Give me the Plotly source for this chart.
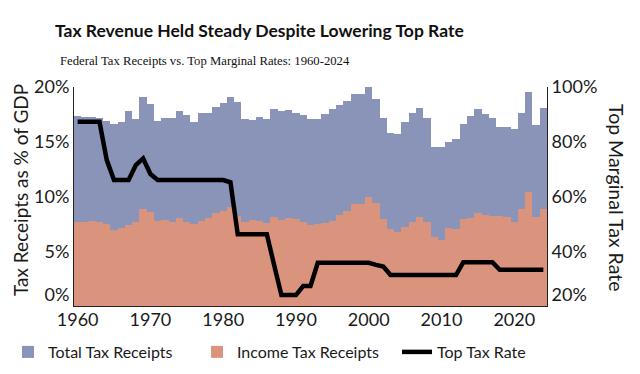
import plotly.graph_objects as go

years = list(range(1960, 2025))

total_receipts = [
    17.35, 17.30, 17.23, 17.14, 16.93, 16.59, 16.83, 17.84, 17.05, 19.12,
    18.44, 16.89, 17.14, 17.20, 17.84, 17.44, 16.77, 17.65, 17.65, 18.14,
    18.57, 19.12, 18.66, 17.08, 16.99, 17.23, 17.08, 17.96, 17.84, 17.90,
    17.59, 17.44, 17.10, 17.05, 17.53, 17.96, 18.36, 18.75, 19.33, 19.33,
    20.03, 18.93, 17.14, 15.83, 15.68, 16.83, 17.65, 18.05, 17.14, 14.55,
    14.55, 14.94, 15.25, 16.62, 17.35, 17.96, 17.53, 17.14, 16.32, 16.32,
    16.17, 17.65, 19.51, 16.56, 18.05,
]

income_receipts = [
    7.64, 7.64, 7.79, 7.70, 7.45, 6.94, 7.15, 7.39, 7.70, 8.88,
    8.61, 7.76, 7.85, 7.70, 8.00, 7.64, 7.45, 7.79, 8.00, 8.52,
    8.70, 9.07, 8.22, 7.64, 7.85, 7.76, 7.60, 8.10, 7.85, 8.00,
    7.94, 7.70, 7.39, 7.45, 7.61, 7.79, 8.31, 8.70, 9.31, 9.31,
    9.92, 9.43, 7.91, 7.00, 6.73, 7.18, 7.70, 8.09, 7.70, 6.27,
    6.03, 7.09, 7.00, 7.91, 8.00, 8.52, 8.31, 8.22, 8.22, 8.09,
    7.64, 8.88, 10.38, 8.12, 8.88,
]

top_rate = [
    87.3, 87.3, 87.3, 87.3, 73.3, 66.0, 66.0, 66.0, 71.5, 73.9,
    68.2, 66.0, 66.0, 66.0, 66.0, 66.0, 66.0, 66.0, 66.0, 66.0,
    66.0, 65.2, 46.2, 46.2, 46.2, 46.2, 46.2, 35.0, 24.0, 24.0,
    24.0, 27.3, 27.3, 35.8, 35.8, 35.8, 35.8, 35.8, 35.8, 35.8,
    35.8, 35.0, 34.4, 31.3, 31.3, 31.3, 31.3, 31.3, 31.3, 31.3,
    31.3, 31.3, 31.3, 36.0, 36.0, 36.0, 36.0, 36.0, 33.2, 33.2,
    33.2, 33.2, 33.2, 33.2, 33.2,
]

left_ticks = [0, 5, 10, 15, 20]
left_labels = ["0%<br> ", "5%", "10%", "15%", "20%"]
right_ticks = [20, 40, 60, 80, 100]
right_labels = ["20%<br> ", "40%", "60%", "80%", "100%"]
x_ticks = [1960, 1970, 1980, 1990, 2000, 2010, 2020]

BLUE = "#8A93B8"
SALMON = "#DA937D"
FONT = "Lato"
W, H = 640, 374
OFF = 8  # page body margin offset

fig = go.Figure()
fig.add_trace(go.Bar(x=years, y=total_receipts, name="Total Tax Receipts",
                     marker=dict(color=BLUE, line=dict(width=0)),
                     legend="legend"))
fig.add_trace(go.Bar(x=years, y=income_receipts, name="Income Tax Receipts",
                     marker=dict(color=SALMON, line=dict(width=0)),
                     legend="legend2"))
fig.add_trace(go.Scatter(x=years, y=top_rate, name="Top Tax Rate", yaxis="y2",
                         mode="lines", line=dict(color="black", width=4.5),
                         legend="legend3"))

def leg(px):
    return dict(orientation="h", x=px / W, xref="container", xanchor="left",
                y=1 - (352 - OFF) / H, yref="container", yanchor="middle",
                font=dict(family=FONT, size=16, color="#1a1a1a"),
                bgcolor="rgba(0,0,0,0)")

fig.update_layout(
    width=W, height=H,
    margin=dict(l=74 - OFF, r=W - (547 - OFF), t=87 - OFF,
                b=H - (306 - OFF), autoexpand=False),
    paper_bgcolor="white", plot_bgcolor="white",
    barmode="overlay", bargap=0,
    font=dict(family=FONT, size=18, color="#1a1a1a"),
    title=dict(text="<b>Tax Revenue Held Steady Despite Lowering Top Rate</b>",
               x=(55 - OFF)/W, xanchor="left", xref="container",
               y=1-23/H, yanchor="middle", yref="container",
               font=dict(family=FONT, size=17.5, color="#111")),
    xaxis=dict(range=[1959.5, 2024.5], tickvals=x_ticks, showgrid=False,
               showline=True, linecolor="#222", linewidth=1, ticks="",
               zeroline=False, tickfont=dict(size=18), ticklabelstandoff=-3),
    yaxis=dict(range=[0, 20], tickvals=left_ticks, ticktext=left_labels,
               showgrid=False, showline=True, linecolor="#222", linewidth=1,
               ticks="", zeroline=False, tickfont=dict(size=18)),
    yaxis2=dict(range=[20, 100], tickvals=right_ticks, ticktext=right_labels,
                overlaying="y", side="right", showgrid=False, showline=True,
                linecolor="#222", linewidth=1, ticks="", zeroline=False,
                tickfont=dict(size=18)),
    legend=leg(-5),
    legend2=leg(189),
    legend3=leg(389),
    showlegend=True,
    annotations=[
        dict(text="Federal Tax Receipts vs. Top Marginal Rates: 1960-2024",
             xref="paper", yref="paper", x=-16/473, y=(306-61)/219,
             xanchor="left", yanchor="middle", showarrow=False,
             font=dict(family="Liberation Serif", size=12.7, color="#111")),
        dict(text="Tax Receipts as % of GDP", xref="paper", yref="paper",
             x=(20-74)/473, y=(306-190)/219, textangle=-90, showarrow=False,
             xanchor="center", yanchor="middle",
             font=dict(family=FONT, size=19, color="#1a1a1a")),
        dict(text="Top Marginal Tax Rate", xref="paper", yref="paper",
             x=(617-74)/473, y=(306-197)/219, textangle=90, showarrow=False,
             xanchor="center", yanchor="middle",
             font=dict(family=FONT, size=19.5, color="#1a1a1a")),
    ],
)

fig.write_html("out.html")
